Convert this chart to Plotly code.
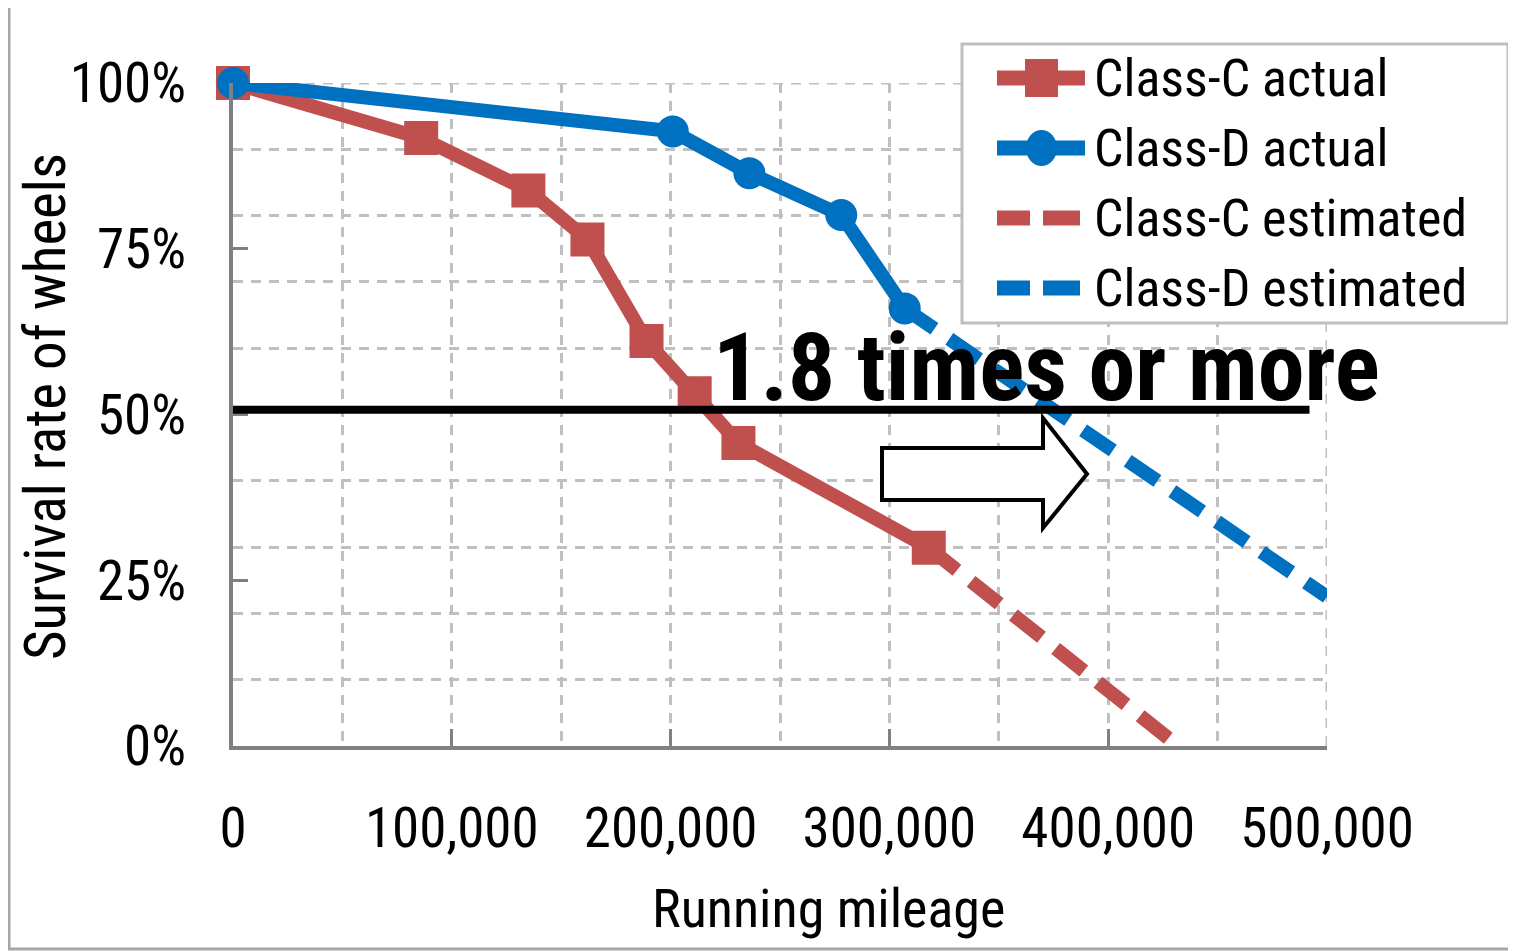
import plotly.graph_objects as go

# ---------------- data ----------------
mileage_c_actual = [0, 86000, 135000, 162000, 189000, 211000, 231000, 318000]
survival_c_actual = [1.0, 0.917, 0.838, 0.764, 0.611, 0.532, 0.457, 0.299]
mileage_c_est = [318000, 432000]
survival_c_est = [0.299, 0.0]

mileage_d_actual = [0, 201000, 236000, 278000, 307000]
survival_d_actual = [1.0, 0.927, 0.864, 0.801, 0.660]
mileage_d_est = [307000, 500000]
survival_d_est = [0.660, 0.225]

series_names = ["Class-C actual", "Class-D actual", "Class-C estimated", "Class-D estimated"]
x_tick_vals = [0, 100000, 200000, 300000, 400000, 500000]
x_tick_text = ["0", "100,000", "200,000", "300,000", "400,000", "500,000"]
x_minor_vals = [50000, 150000, 250000, 350000, 450000]
y_tick_vals = [0, 0.25, 0.5, 0.75, 1.0]
y_tick_text = ["0%", "25%", "50%", "75%", "100%"]
y_minor_vals = [0.1, 0.2, 0.3, 0.4, 0.6, 0.7, 0.8, 0.9]
threshold = 0.507
threshold_end = 492000
callout_text = "1.8 times or more"
x_title = "Running mileage"
y_title = "Survival rate of wheels"

# ---------------- style ----------------
RED = "#C0504D"
BLUE = "#0070C0"
GRID = "#BFBFBF"
AXIS = "#808080"
FONT = "Liberation Sans Narrow, Roboto Condensed, DejaVu Sans Condensed, Liberation Sans, Arial"

OFF = 8                      # page body margin
W, H = 1516 - OFF, 951 - OFF  # figure size
PL, PR, PT, PB = 233, 1327, 83, 746  # plot area in page pixels
PW, PH = PR - PL, PB - PT


def px(xp):
    return (xp - PL) / PW


def py(yp):
    return (PB - yp) / PH


LW = 14
DASH = "36px,18px"

fig = go.Figure()
fig.add_trace(go.Scatter(x=mileage_c_est, y=survival_c_est, mode="lines",
                         line=dict(color=RED, width=LW, dash=DASH),
                         name=series_names[2], showlegend=False))
fig.add_trace(go.Scatter(x=mileage_d_est, y=survival_d_est, mode="lines",
                         line=dict(color=BLUE, width=LW, dash=DASH),
                         name=series_names[3], showlegend=False))
fig.add_trace(go.Scatter(x=mileage_c_actual, y=survival_c_actual, mode="lines+markers",
                         line=dict(color=RED, width=LW),
                         marker=dict(symbol="square", size=34, color=RED),
                         name=series_names[0], showlegend=False, cliponaxis=False))
fig.add_trace(go.Scatter(x=mileage_d_actual, y=survival_d_actual, mode="lines+markers",
                         line=dict(color=BLUE, width=LW),
                         marker=dict(symbol="circle", size=32, color=BLUE),
                         name=series_names[1], showlegend=False, cliponaxis=False))

shapes = []
annotations = []

# outer frame
shapes.append(dict(type="rect", xref="paper", yref="paper",
                   x0=px(9), x1=px(1530), y0=py(949), y1=py(5),
                   line=dict(color="#A6A6A6", width=3), layer="below"))
# top grid line at 100%
shapes.append(dict(type="line", xref="x", yref="y", x0=0, x1=500000, y0=1, y1=1,
                   line=dict(color=GRID, width=3, dash="10px,8px"), layer="below"))
# right grid line
shapes.append(dict(type="line", xref="x", yref="y", x0=500000, x1=500000, y0=0, y1=1,
                   line=dict(color=GRID, width=3, dash="10px,8px"), layer="below"))
# 50% threshold line
shapes.append(dict(type="line", xref="x", yref="y", x0=-1500, x1=threshold_end,
                   y0=threshold, y1=threshold, line=dict(color="black", width=8), layer="above"))
# block arrow
ax = [882, 1043, 1043, 1087, 1043, 1043, 882]
ay = [448, 448, 418, 474, 528, 500, 500]
path = "M " + " L ".join(f"{px(a):.5f},{py(b):.5f}" for a, b in zip(ax, ay)) + " Z"
shapes.append(dict(type="path", xref="paper", yref="paper", path=path,
                   fillcolor="white", line=dict(color="black", width=4), layer="above"))

# legend box
shapes.append(dict(type="rect", xref="paper", yref="paper",
                   x0=px(962), x1=px(1508), y0=py(323), y1=py(44),
                   fillcolor="white", line=dict(color="#BFBFBF", width=3), layer="above"))
leg_y = [78, 148, 218, 288]
leg_colors = [RED, BLUE, RED, BLUE]
for i, (yy, col) in enumerate(zip(leg_y, leg_colors)):
    if i < 2:
        shapes.append(dict(type="line", xref="paper", yref="paper",
                           x0=px(997), x1=px(1085), y0=py(yy), y1=py(yy),
                           line=dict(color=col, width=15), layer="above"))
    else:
        for a, b in [(997, 1030), (1043, 1080)]:
            shapes.append(dict(type="line", xref="paper", yref="paper",
                               x0=px(a), x1=px(b), y0=py(yy), y1=py(yy),
                               line=dict(color=col, width=15), layer="above"))
    if i == 0:
        shapes.append(dict(type="rect", xref="paper", yref="paper",
                           x0=px(1025), x1=px(1058), y0=py(yy + 19), y1=py(yy - 19),
                           fillcolor=col, line=dict(width=0), layer="above"))
    elif i == 1:
        shapes.append(dict(type="circle", xref="paper", yref="paper",
                           x0=px(1026), x1=px(1057), y0=py(yy + 18), y1=py(yy - 18),
                           fillcolor=col, line=dict(width=0), layer="above"))
    annotations.append(dict(xref="paper", yref="paper", x=px(1092), y=py(yy),
                            xanchor="left", yanchor="middle", showarrow=False,
                            text=series_names[i], font=dict(family=FONT, size=52, color="black")))

# callout text
annotations.append(dict(xref="paper", yref="paper", x=px(1046), y=py(368),
                        xanchor="center", yanchor="middle", showarrow=False,
                        text="<b>" + callout_text + "</b>",
                        font=dict(family=FONT, size=94, color="black")))
# axis titles
annotations.append(dict(xref="paper", yref="paper", x=px(829), y=py(908),
                        xanchor="center", yanchor="middle", showarrow=False,
                        text=x_title, font=dict(family=FONT, size=54, color="black")))
annotations.append(dict(xref="paper", yref="paper", x=px(45), y=py(407),
                        xanchor="center", yanchor="middle", showarrow=False, textangle=-90,
                        text=y_title, font=dict(family=FONT, size=57, color="black")))

fig.update_layout(
    width=W, height=H,
    margin=dict(l=PL - OFF, r=W - (PR - OFF), t=PT - OFF, b=H - (PB - OFF), autoexpand=False),
    paper_bgcolor="white", plot_bgcolor="white",
    showlegend=False,
    shapes=shapes, annotations=annotations,
    xaxis=dict(range=[0, 500000], showline=True, linecolor=AXIS, linewidth=4,
               tickmode="array", tickvals=x_tick_vals, ticktext=x_tick_text,
               ticks="inside", ticklen=17, tickwidth=3, tickcolor=AXIS,
               ticklabelstandoff=31,
               showgrid=True, gridcolor=GRID, gridwidth=3, griddash="10px,8px",
               zeroline=False,
               minor=dict(tickmode="array", tickvals=x_minor_vals, showgrid=True,
                          gridcolor=GRID, gridwidth=3, griddash="10px,8px", ticks=""),
               tickfont=dict(family=FONT, size=55, color="black")),
    yaxis=dict(range=[0, 1], showline=True, linecolor=AXIS, linewidth=4,
               tickmode="array", tickvals=y_tick_vals, ticktext=y_tick_text,
               ticks="inside", ticklen=15, tickwidth=3, tickcolor=AXIS,
               ticklabelstandoff=32,
               showgrid=False, zeroline=False,
               minor=dict(tickmode="array", tickvals=y_minor_vals, showgrid=True,
                          gridcolor=GRID, gridwidth=3, griddash="10px,8px", ticks=""),
               tickfont=dict(family=FONT, size=55, color="black")),
)

fig.write_html("out.html")
